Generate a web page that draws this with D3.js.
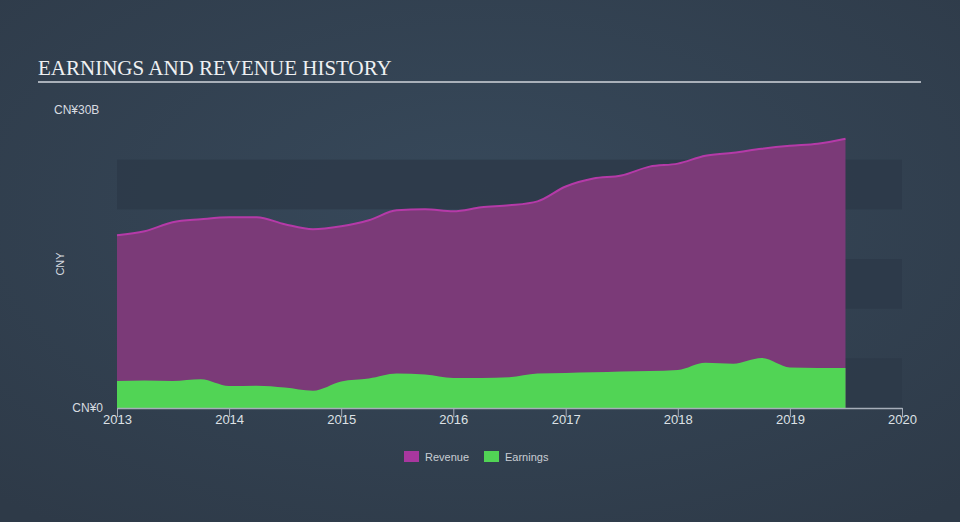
<!DOCTYPE html>
<html>
<head>
<meta charset="utf-8">
<script src="https://cdn.jsdelivr.net/npm/d3@7/dist/d3.min.js"></script>
<style>
  html, body { margin: 0; padding: 0; background: #323f4e; }
  svg { display: block; }
</style>
</head>
<body>
<svg id="chart" width="960" height="522"></svg>
<script>
// Quarterly data, 2013 Q1 .. 2019 Q3 (values in CN¥ billions)
const dates = [
  "2013-01-01","2013-04-01","2013-07-01","2013-10-01",
  "2014-01-01","2014-04-01","2014-07-01","2014-10-01",
  "2015-01-01","2015-04-01","2015-07-01","2015-10-01",
  "2016-01-01","2016-04-01","2016-07-01","2016-10-01",
  "2017-01-01","2017-04-01","2017-07-01","2017-10-01",
  "2018-01-01","2018-04-01","2018-07-01","2018-10-01",
  "2019-01-01","2019-04-01","2019-07-01"
];
const revenue = [
  17.4, 17.8, 18.7, 19.0,
  19.2, 19.2, 18.5, 18.0,
  18.3, 18.9, 19.9, 20.0,
  19.8, 20.2, 20.4, 20.8,
  22.3, 23.1, 23.4, 24.3,
  24.6, 25.4, 25.7, 26.1,
  26.4, 26.6, 27.1
];
const earnings = [
  2.72, 2.77, 2.72, 2.89,
  2.21, 2.24, 2.06, 1.74,
  2.67, 2.97, 3.47, 3.37,
  3.02, 3.02, 3.09, 3.47,
  3.52, 3.59, 3.67, 3.72,
  3.83, 4.56, 4.46, 5.03,
  4.08, 4.03, 4.03
];
const xTickYears = [2013, 2014, 2015, 2016, 2017, 2018, 2019, 2020];
const yTickLabels = ["CN¥0", "CN¥30B"];
const seriesNames = ["Revenue", "Earnings"];

(function () {
const svg = d3.select("#chart");
const W = 960, H = 522;

// background radial gradient
const defs = svg.append("defs");
const rg = defs.append("radialGradient").attr("id", "bg")
  .attr("cx", "50%").attr("cy", "40%").attr("r", "75%");
rg.append("stop").attr("offset", "0%").attr("stop-color", "#37495b");
rg.append("stop").attr("offset", "100%").attr("stop-color", "#2e3a48");
svg.append("rect").attr("width", W).attr("height", H).attr("fill", "url(#bg)");

const parse = d3.timeParse("%Y-%m-%d");
const data = dates.map((d, i) => ({ date: parse(d), rev: revenue[i], earn: earnings[i] }));

const pLeft = 117, pRight = 902, pTop = 110, pBottom = 408;
const x = d3.scaleTime()
  .domain([new Date(2013, 0, 1), new Date(2020, 0, 1)])
  .range([pLeft, pRight]);
const y = d3.scaleLinear().domain([0, 30]).range([pBottom, pTop]);

// title
svg.append("text")
  .attr("x", 38).attr("y", 75)
  .attr("font-family", "Liberation Serif, 'DejaVu Serif', serif")
  .attr("font-size", 21)
  .attr("fill", "#eef0f2")
  .text("EARNINGS AND REVENUE HISTORY");
svg.append("line")
  .attr("x1", 38).attr("x2", 921).attr("y1", 82).attr("y2", 82)
  .attr("stroke", "#a9b0b9").attr("stroke-width", 2);

// alternating bands every 5B
const bandStarts = [0, 10, 20];
svg.append("g").selectAll("rect").data(bandStarts).join("rect")
  .attr("x", pLeft).attr("width", pRight - pLeft)
  .attr("y", d => y(d + 5)).attr("height", d => y(d) - y(d + 5))
  .attr("fill", "#2d3a49").attr("opacity", 0.85);

const curve = d3.curveMonotoneX;
const revArea = d3.area().x(d => x(d.date)).y0(y(0)).y1(d => y(d.rev)).curve(curve);
const revLine = d3.line().x(d => x(d.date)).y(d => y(d.rev)).curve(curve);
const earnArea = d3.area().x(d => x(d.date)).y0(y(0)).y1(d => y(d.earn)).curve(curve);

svg.append("path").datum(data).attr("d", revArea).attr("fill", "#7b3a78");
svg.append("path").datum(data).attr("d", revLine)
  .attr("fill", "none").attr("stroke", "#b53aa8").attr("stroke-width", 2);
svg.append("path").datum(data).attr("d", earnArea).attr("fill", "#51d455");

// x axis
const xAxis = d3.axisBottom(x)
  .tickValues(xTickYears.map(yr => new Date(yr, 0, 1)))
  .tickFormat(d3.timeFormat("%Y"))
  .tickSize(9).tickSizeOuter(0);
const gx = svg.append("g").attr("transform", `translate(0,${pBottom})`).call(xAxis);
gx.select(".domain").attr("stroke", "#a6aeb9").attr("stroke-width", 1.5);
gx.selectAll(".tick line").attr("stroke", "#a6aeb9");
gx.selectAll(".tick text")
  .attr("fill", "#dde1e5").attr("font-size", 13)
  .attr("font-family", "'Liberation Sans', Arial, sans-serif")
  .attr("dy", "0.55em").attr("y", 9);

// y labels
svg.append("text").attr("x", 54).attr("y", 114)
  .attr("font-family", "'Liberation Sans', Arial, sans-serif")
  .attr("font-size", 12).attr("fill", "#d8dce0").text(yTickLabels[1]);
svg.append("text").attr("x", 103).attr("y", 412).attr("text-anchor", "end")
  .attr("font-family", "'Liberation Sans', Arial, sans-serif")
  .attr("font-size", 12).attr("fill", "#d8dce0").text(yTickLabels[0]);
svg.append("text")
  .attr("transform", "translate(64,264) rotate(-90)")
  .attr("text-anchor", "middle")
  .attr("font-family", "'Liberation Sans', Arial, sans-serif")
  .attr("font-size", 11).attr("fill", "#d8dce0").text("CNY");

// legend
const legColors = ["#a8379f", "#51d455"];
const legX = [404, 484];
const lg = svg.append("g");
seriesNames.forEach((name, i) => {
  lg.append("rect").attr("x", legX[i]).attr("y", 451).attr("width", 15).attr("height", 11)
    .attr("fill", legColors[i]);
  lg.append("text").attr("x", legX[i] + 21).attr("y", 461)
    .attr("font-family", "'Liberation Sans', Arial, sans-serif")
    .attr("font-size", 11).attr("fill", "#c9ced4").text(name);
});
})();
</script>
</body>
</html>
